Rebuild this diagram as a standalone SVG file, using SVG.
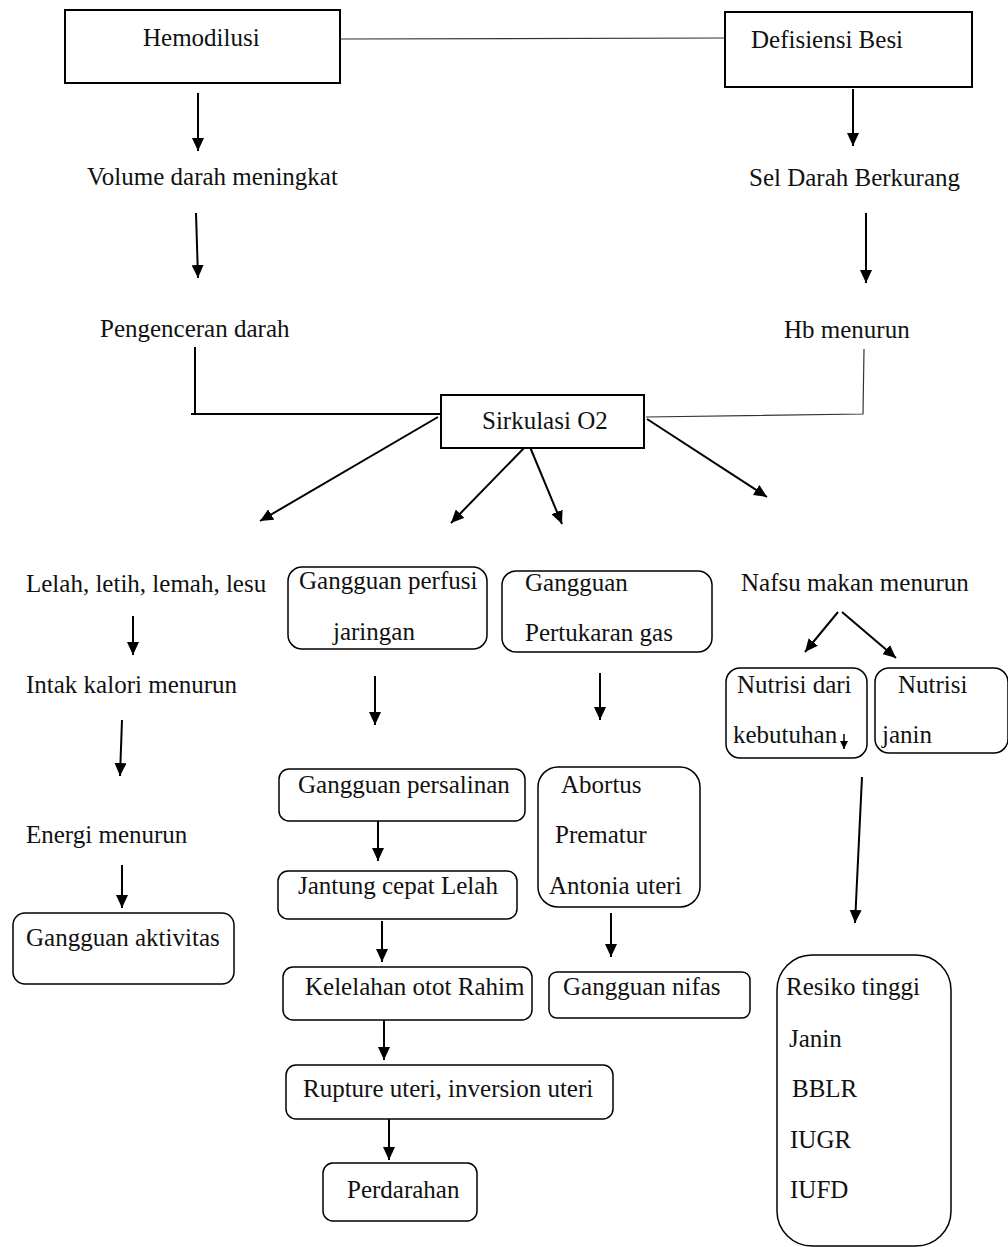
<svg xmlns="http://www.w3.org/2000/svg" width="1008" height="1247" viewBox="0 0 1008 1247">
<defs>
<marker id="ah" markerUnits="userSpaceOnUse" markerWidth="13" markerHeight="12" refX="13" refY="6" orient="auto"><path d="M0,0 L13,6 L0,12 z" fill="#000"/></marker>
<marker id="ahs" markerUnits="userSpaceOnUse" markerWidth="8" markerHeight="8" refX="8" refY="4" orient="auto"><path d="M0,0 L8,4 L0,8 z" fill="#000"/></marker>
<style>
text{font-family:"Liberation Serif","Times New Roman",serif;font-size:25px;fill:#111}
.box{fill:#fff;stroke:#000;stroke-width:2}
.rbox{fill:#fff;stroke:#000;stroke-width:1.5}
.arr{stroke:#000;stroke-width:2;fill:none;marker-end:url(#ah)}
.ln{stroke:#000;stroke-width:2;fill:none}
.thin{stroke:#333;stroke-width:1.2;fill:none}
</style>
</defs>
<rect width="1008" height="1247" fill="#fff"/>
<g id="connectors">
<line class="thin" x1="340" y1="39" x2="725" y2="38"/>
<line class="arr" x1="198" y1="93" x2="198" y2="151"/>
<line class="arr" x1="853" y1="89" x2="853" y2="146"/>
<line class="arr" x1="196" y1="213" x2="198" y2="278"/>
<line class="arr" x1="866" y1="213" x2="866" y2="283"/>
<polyline class="ln" points="195,347 195,414 441,414"/>
<line class="ln" x1="191" y1="414" x2="196" y2="414"/>
<polyline class="thin" points="864,349 863,414 646,417"/>
<line class="arr" x1="438" y1="417" x2="260" y2="521"/>
<line class="arr" x1="525" y1="447" x2="451" y2="523"/>
<line class="arr" x1="530" y1="447" x2="562" y2="524"/>
<line class="arr" x1="647" y1="419" x2="767" y2="497"/>
<line class="arr" x1="133" y1="616" x2="133" y2="655"/>
<line class="arr" x1="122" y1="720" x2="120" y2="776"/>
<line class="arr" x1="122" y1="865" x2="122" y2="908"/>
<line class="arr" x1="375" y1="676" x2="375" y2="725"/>
<line class="arr" x1="600" y1="673" x2="600" y2="720"/>
<line class="arr" x1="838" y1="612" x2="805" y2="652"/>
<line class="arr" x1="842" y1="612" x2="896" y2="658"/>
<line class="arr" x1="862" y1="777" x2="855" y2="923"/>
<line class="arr" x1="378" y1="817" x2="378" y2="861"/>
<line class="arr" x1="382" y1="921" x2="382" y2="962"/>
<line class="arr" x1="611" y1="913" x2="611" y2="957"/>
<line class="arr" x1="384" y1="1020" x2="384" y2="1060"/>
<line class="arr" x1="389" y1="1117" x2="389" y2="1160"/>
</g>
<g id="hemodilusi"><rect class="box" x="65" y="10" width="275" height="73"/><text x="143" y="46">Hemodilusi</text></g>
<g id="defisiensi"><rect class="box" x="725" y="12" width="247" height="75"/><text x="751" y="48">Defisiensi Besi</text></g>
<g id="volume"><text x="87" y="185">Volume darah meningkat</text></g>
<g id="seldarah"><text x="749" y="186">Sel Darah Berkurang</text></g>
<g id="pengenceran"><text x="100" y="337">Pengenceran darah</text></g>
<g id="hb"><text x="784" y="338">Hb menurun</text></g>
<g id="sirkulasi"><rect class="box" x="441" y="395" width="203" height="53"/><text x="482" y="429">Sirkulasi O2</text></g>
<g id="lelah"><text x="26" y="592">Lelah, letih, lemah, lesu</text></g>
<g id="intak"><text x="26" y="693">Intak kalori menurun</text></g>
<g id="energi"><text x="26" y="843">Energi menurun</text></g>
<g id="aktivitas"><rect class="rbox" x="13" y="913" width="221" height="71" rx="12"/><text x="26" y="946">Gangguan aktivitas</text></g>
<g id="perfusi"><rect class="rbox" x="288" y="567" width="199" height="82" rx="14"/><text x="299" y="589">Gangguan perfusi</text><text x="333" y="640">jaringan</text></g>
<g id="pertukaran"><rect class="rbox" x="502" y="571" width="210" height="81" rx="14"/><text x="525" y="591">Gangguan</text><text x="525" y="641">Pertukaran gas</text></g>
<g id="nafsu"><text x="741" y="591">Nafsu makan menurun</text></g>
<g id="nutrisidari"><rect class="rbox" x="726" y="668" width="141" height="90" rx="14"/><text x="737" y="693">Nutrisi dari</text><text x="733" y="743">kebutuhan</text><line x1="844" y1="734" x2="844" y2="749" stroke="#000" stroke-width="1.5" marker-end="url(#ahs)"/></g>
<g id="nutrisijanin"><rect class="rbox" x="875" y="668" width="133" height="85" rx="14"/><text x="898" y="693">Nutrisi</text><text x="882" y="743">janin</text></g>
<g id="persalinan"><rect class="rbox" x="279" y="769" width="246" height="52" rx="10"/><text x="298" y="793">Gangguan persalinan</text></g>
<g id="jantung"><rect class="rbox" x="278" y="871" width="239" height="48" rx="10"/><text x="298" y="894">Jantung cepat Lelah</text></g>
<g id="kelelahan"><rect class="rbox" x="283" y="967" width="249" height="53" rx="10"/><text x="305" y="995">Kelelahan otot Rahim</text></g>
<g id="rupture"><rect class="rbox" x="286" y="1065" width="327" height="54" rx="10"/><text x="303" y="1097">Rupture uteri, inversion uteri</text></g>
<g id="perdarahan"><rect class="rbox" x="323" y="1163" width="154" height="58" rx="10"/><text x="347" y="1198">Perdarahan</text></g>
<g id="abortus"><rect class="rbox" x="538" y="767" width="162" height="140" rx="20"/><text x="561" y="793">Abortus</text><text x="555" y="843">Prematur</text><text x="549" y="894">Antonia uteri</text></g>
<g id="nifas"><rect class="rbox" x="549" y="972" width="201" height="46" rx="8"/><text x="563" y="995">Gangguan nifas</text></g>
<g id="resiko"><rect class="rbox" x="777" y="955" width="174" height="291" rx="35"/><text x="786" y="995">Resiko tinggi</text><text x="789" y="1047">Janin</text><text x="792" y="1097">BBLR</text><text x="790" y="1148">IUGR</text><text x="790" y="1198">IUFD</text></g>
</svg>
